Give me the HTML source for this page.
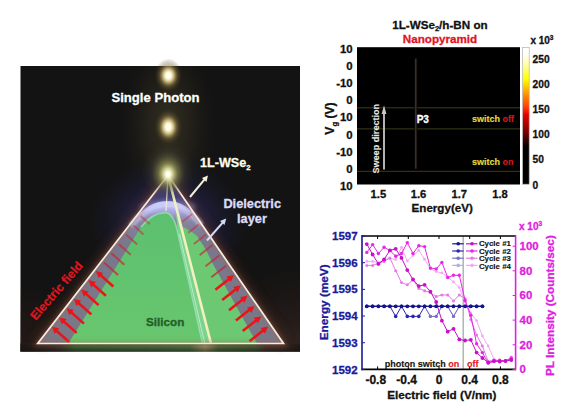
<!DOCTYPE html>
<html><head><meta charset="utf-8">
<style>
html,body{margin:0;padding:0;background:#fff;width:567px;height:409px;overflow:hidden;}
svg{display:block;font-family:"Liberation Sans",sans-serif;font-weight:bold;}
</style></head>
<body>
<svg width="567" height="409" viewBox="0 0 567 409">
<defs>
  <radialGradient id="glowWarm" cx="0.5" cy="0.5" r="0.5">
    <stop offset="0" stop-color="#ffffff" stop-opacity="1"/>
    <stop offset="0.2" stop-color="#fffae0" stop-opacity="1"/>
    <stop offset="0.38" stop-color="#e8d490" stop-opacity="0.85"/>
    <stop offset="0.65" stop-color="#8a7440" stop-opacity="0.45"/>
    <stop offset="1" stop-color="#403018" stop-opacity="0"/>
  </radialGradient>
  <radialGradient id="glowApex" cx="0.5" cy="0.5" r="0.5">
    <stop offset="0" stop-color="#ffffff" stop-opacity="1"/>
    <stop offset="0.12" stop-color="#fffff0" stop-opacity="1"/>
    <stop offset="0.3" stop-color="#e8e8a8" stop-opacity="0.75"/>
    <stop offset="0.6" stop-color="#8a8a50" stop-opacity="0.4"/>
    <stop offset="1" stop-color="#505030" stop-opacity="0"/>
  </radialGradient>
  <radialGradient id="bgPurple" cx="168" cy="225" r="72" gradientUnits="userSpaceOnUse" gradientTransform="translate(168,225) scale(1.15,1) translate(-168,-225)">
    <stop offset="0" stop-color="#3c3a80" stop-opacity="0.95"/>
    <stop offset="0.5" stop-color="#282656" stop-opacity="0.55"/>
    <stop offset="1" stop-color="#181830" stop-opacity="0"/>
  </radialGradient>
  <radialGradient id="triGlow" cx="168" cy="205" r="42" gradientUnits="userSpaceOnUse">
    <stop offset="0" stop-color="#5a58b0" stop-opacity="0.75"/>
    <stop offset="0.6" stop-color="#40408a" stop-opacity="0.4"/>
    <stop offset="1" stop-color="#303070" stop-opacity="0"/>
  </radialGradient>
  <radialGradient id="bgWarm" cx="168" cy="125" r="48" gradientUnits="userSpaceOnUse" gradientTransform="translate(168,125) scale(1,1.8) translate(-168,-125)">
    <stop offset="0" stop-color="#3a3626" stop-opacity="0.9"/>
    <stop offset="0.55" stop-color="#2a271c" stop-opacity="0.55"/>
    <stop offset="1" stop-color="#201e18" stop-opacity="0"/>
  </radialGradient>
  <radialGradient id="apexHaze" cx="0.5" cy="0.5" r="0.5">
    <stop offset="0" stop-color="#d0d088" stop-opacity="0.85"/>
    <stop offset="0.35" stop-color="#8a8a50" stop-opacity="0.55"/>
    <stop offset="0.7" stop-color="#4a4a38" stop-opacity="0.25"/>
    <stop offset="1" stop-color="#3a3a30" stop-opacity="0"/>
  </radialGradient>
  <linearGradient id="bottomStrip" x1="0" y1="0" x2="1" y2="0">
    <stop offset="0" stop-color="#1c1612"/>
    <stop offset="0.059" stop-color="#2a201a"/>
    <stop offset="0.141" stop-color="#3e3430"/>
    <stop offset="0.195" stop-color="#3a6234"/>
    <stop offset="0.606" stop-color="#4a7040"/>
    <stop offset="0.660" stop-color="#9a9060"/>
    <stop offset="0.707" stop-color="#4a6a3a"/>
    <stop offset="0.839" stop-color="#3e5a34"/>
    <stop offset="0.875" stop-color="#4a3430"/>
    <stop offset="0.943" stop-color="#3a2a24"/>
    <stop offset="1" stop-color="#1e1814"/>
  </linearGradient>
  <linearGradient id="bottomDark" x1="0" y1="0" x2="0" y2="1">
    <stop offset="0" stop-color="#3a2a10" stop-opacity="0.35"/>
    <stop offset="0.35" stop-color="#111" stop-opacity="0.05"/>
    <stop offset="1" stop-color="#111" stop-opacity="0.55"/>
  </linearGradient>
  <linearGradient id="dielGrad" x1="0" y1="200" x2="0" y2="343" gradientUnits="userSpaceOnUse">
    <stop offset="0" stop-color="#d0d0fa"/>
    <stop offset="0.06" stop-color="#a8a8e0"/>
    <stop offset="0.16" stop-color="#84849e"/>
    <stop offset="0.3" stop-color="#78788e"/>
    <stop offset="1" stop-color="#7a7886"/>
  </linearGradient>
  <linearGradient id="greenGrad" x1="0" y1="211" x2="0" y2="343" gradientUnits="userSpaceOnUse">
    <stop offset="0" stop-color="#5cc070"/>
    <stop offset="1" stop-color="#68c66e"/>
  </linearGradient>
  <linearGradient id="cbar" x1="0" y1="1" x2="0" y2="0">
    <stop offset="0" stop-color="#000"/>
    <stop offset="0.27" stop-color="#000"/>
    <stop offset="0.38" stop-color="#780000"/>
    <stop offset="0.51" stop-color="#e80000"/>
    <stop offset="0.565" stop-color="#ff4000"/>
    <stop offset="0.64" stop-color="#ff8000"/>
    <stop offset="0.77" stop-color="#ffff00"/>
    <stop offset="0.87" stop-color="#ffffa0"/>
    <stop offset="0.96" stop-color="#fff"/>
    <stop offset="1" stop-color="#fff"/>
  </linearGradient>
  <filter id="blur3" x="-50%" y="-50%" width="200%" height="200%"><feGaussianBlur stdDeviation="3"/></filter>
  <filter id="blur1" x="-20%" y="-20%" width="140%" height="140%"><feGaussianBlur stdDeviation="1"/></filter>
  <filter id="blur2" x="-30%" y="-30%" width="160%" height="160%"><feGaussianBlur stdDeviation="2"/></filter>
  <radialGradient id="bgBR" cx="300" cy="352" r="90" gradientUnits="userSpaceOnUse">
    <stop offset="0" stop-color="#3a2a24" stop-opacity="0.8"/>
    <stop offset="1" stop-color="#2a1a16" stop-opacity="0"/>
  </radialGradient>
  <radialGradient id="bgBL" cx="20" cy="352" r="70" gradientUnits="userSpaceOnUse">
    <stop offset="0" stop-color="#2e1e1a" stop-opacity="0.7"/>
    <stop offset="1" stop-color="#2a1a16" stop-opacity="0"/>
  </radialGradient>
  <filter id="blur5" x="-30%" y="-30%" width="160%" height="160%"><feGaussianBlur stdDeviation="5"/></filter>
</defs>
<rect x="20.5" y="66" width="279.5" height="285.5" fill="#131313"/>
<rect x="20.5" y="66" width="279.5" height="285.5" fill="url(#bgWarm)"/>
<rect x="20.5" y="66" width="279.5" height="285.5" fill="url(#bgPurple)"/>
<rect x="20.5" y="66" width="279.5" height="285.5" fill="url(#bgBR)"/>
<rect x="20.5" y="66" width="279.5" height="285.5" fill="url(#bgBL)"/>
<rect x="20.5" y="343.5" width="279.5" height="8" fill="url(#bottomStrip)"/>
<rect x="20.5" y="343.5" width="279.5" height="8" fill="url(#bottomDark)"/>
<polyline points="37.7,343.5 168,175.3 283.5,343.5" fill="none" stroke="#5a3026" stroke-width="12" opacity="0.45" filter="url(#blur5)"/>
<polygon points="168,175.3 37.7,343.5 283.5,343.5" fill="url(#triGlow)"/>
<path d="M37.7,343.5 L133,220 C144,207 155,201.2 167.4,201.2 C180,201.2 191,208 200.5,221 L283.5,343.5 Z" fill="url(#dielGrad)"/>
<ellipse cx="168" cy="207" rx="28" ry="7" fill="#b8b8f8" opacity="0.35" filter="url(#blur2)"/>
<path d="M131,226 C142,211 155,205.5 167,205.5 C180,205.5 192,212 201,225" fill="none" stroke="#c4c4f4" stroke-width="6" opacity="0.75" filter="url(#blur1)"/>
<path d="M181.2,226 C186,228 191,231 197,236 L205.7,249.3 L213,264 L221,278.7 L257,343.5 L211,343.5 Z" fill="#6cc872"/>
<path d="M176,214 L181.2,226 L211,343.5 L201,343.5 L178,234 Z" fill="#7cd48a"/>
<path d="M68.3,343.5 L141,227 C148,218.5 156,212.8 165,212.8 C171,212.8 175.5,221 178,234 L202,343.5 Z" fill="url(#greenGrad)"/>
<path d="M141,227 C148,218.5 156,212.8 165,212.8 C171,212.8 175.5,221 178,234 L202.5,343.5" fill="none" stroke="#98e0b0" stroke-width="1.5" opacity="0.85"/>
<line x1="179.5" y1="234" x2="204.8" y2="343.5" stroke="#d0f4e8" stroke-width="0.9" opacity="0.8"/>
<line x1="211.3" y1="277.3" x2="226.3" y2="265.5" stroke="#c82434" stroke-width="2" opacity="0.74"/>
<line x1="205.5" y1="266.2" x2="219.5" y2="255.2" stroke="#c82434" stroke-width="2" opacity="0.68"/>
<line x1="199.7" y1="255.1" x2="212.6" y2="244.9" stroke="#c82434" stroke-width="2" opacity="0.62"/>
<line x1="193.9" y1="244.0" x2="205.8" y2="234.6" stroke="#c82434" stroke-width="2" opacity="0.56"/>
<line x1="188.1" y1="232.9" x2="199.0" y2="224.3" stroke="#c82434" stroke-width="2" opacity="0.50"/>
<line x1="182.3" y1="221.8" x2="192.2" y2="214.0" stroke="#c82434" stroke-width="2" opacity="0.44"/>
<line x1="118.1" y1="275.0" x2="104.0" y2="262.4" stroke="#c82434" stroke-width="2" opacity="0.74"/>
<line x1="124.4" y1="264.8" x2="111.3" y2="253.2" stroke="#c82434" stroke-width="2" opacity="0.68"/>
<line x1="130.8" y1="254.7" x2="118.7" y2="243.9" stroke="#c82434" stroke-width="2" opacity="0.62"/>
<line x1="137.2" y1="244.6" x2="126.0" y2="234.6" stroke="#c82434" stroke-width="2" opacity="0.56"/>
<line x1="143.5" y1="234.4" x2="133.3" y2="225.3" stroke="#c82434" stroke-width="2" opacity="0.50"/>
<line x1="149.9" y1="224.3" x2="140.7" y2="216.0" stroke="#c82434" stroke-width="2" opacity="0.44"/>
<g opacity="1"><line x1="215.4" y1="289.7" x2="229.4" y2="278.7" stroke="#ec1418" stroke-width="2.6"/><polygon points="234.1,275.0 230.8,282.1 226.4,276.6" fill="#ec1418"/></g>
<g opacity="1"><line x1="222.2" y1="300.0" x2="236.2" y2="289.0" stroke="#ec1418" stroke-width="2.6"/><polygon points="240.9,285.3 237.6,292.4 233.3,286.9" fill="#ec1418"/></g>
<g opacity="1"><line x1="229.0" y1="310.3" x2="243.0" y2="299.3" stroke="#ec1418" stroke-width="2.6"/><polygon points="247.7,295.6 244.4,302.7 240.1,297.2" fill="#ec1418"/></g>
<g opacity="1"><line x1="235.9" y1="320.6" x2="249.8" y2="309.6" stroke="#ec1418" stroke-width="2.6"/><polygon points="254.6,305.9 251.2,313.0 246.9,307.5" fill="#ec1418"/></g>
<g opacity="1"><line x1="242.7" y1="330.9" x2="256.7" y2="319.9" stroke="#ec1418" stroke-width="2.6"/><polygon points="261.4,316.2 258.0,323.3 253.7,317.8" fill="#ec1418"/></g>
<g opacity="1"><line x1="249.5" y1="341.2" x2="263.5" y2="330.2" stroke="#ec1418" stroke-width="2.6"/><polygon points="268.2,326.5 264.9,333.6 260.5,328.1" fill="#ec1418"/></g>
<g opacity="1"><line x1="69.3" y1="342.2" x2="56.2" y2="330.5" stroke="#ec1418" stroke-width="2.6"/><polygon points="51.7,326.5 59.3,328.5 54.6,333.8" fill="#ec1418"/></g>
<g opacity="1"><line x1="76.6" y1="332.9" x2="63.5" y2="321.2" stroke="#ec1418" stroke-width="2.6"/><polygon points="59.0,317.2 66.6,319.3 61.9,324.5" fill="#ec1418"/></g>
<g opacity="1"><line x1="84.0" y1="323.6" x2="70.8" y2="311.9" stroke="#ec1418" stroke-width="2.6"/><polygon points="66.4,307.9 73.9,310.0 69.3,315.2" fill="#ec1418"/></g>
<g opacity="1"><line x1="91.3" y1="314.4" x2="78.2" y2="302.7" stroke="#ec1418" stroke-width="2.6"/><polygon points="73.7,298.7 81.2,300.7 76.6,305.9" fill="#ec1418"/></g>
<g opacity="1"><line x1="98.6" y1="305.1" x2="85.5" y2="293.4" stroke="#ec1418" stroke-width="2.6"/><polygon points="81.0,289.4 88.6,291.4 83.9,296.7" fill="#ec1418"/></g>
<g opacity="1"><line x1="105.9" y1="295.8" x2="92.8" y2="284.1" stroke="#ec1418" stroke-width="2.6"/><polygon points="88.3,280.1 95.9,282.1 91.2,287.4" fill="#ec1418"/></g>
<g opacity="1"><line x1="113.3" y1="286.5" x2="100.2" y2="274.8" stroke="#ec1418" stroke-width="2.6"/><polygon points="95.7,270.8 103.2,272.9 98.6,278.1" fill="#ec1418"/></g>
<path d="M133,220 C144,207 155,201.2 167.4,201.2 C180,201.2 191,208 200.5,221 C192,212 181,207 167.4,207 C154,207 143,212 133,220 Z" fill="#d4d4ff" opacity="0.55"/>
<line x1="168" y1="175.3" x2="166" y2="211" stroke="#f0ecd0" stroke-width="1.3" opacity="0.85"/>
<line x1="168" y1="175.3" x2="211" y2="343.5" stroke="#f2f0c0" stroke-width="2.6"/>
<polygon points="168,175.3 37.7,343.5 283.5,343.5" fill="none" stroke="#a06050" stroke-width="4" opacity="0.45" filter="url(#blur2)"/>
<polygon points="168,175.3 37.7,343.5 283.5,343.5" fill="none" stroke="#f6eedc" stroke-width="1.7" stroke-linejoin="miter"/>
<ellipse cx="168.4" cy="75.5" rx="14" ry="17" fill="url(#glowWarm)"/>
<ellipse cx="168.3" cy="127" rx="14" ry="18" fill="url(#glowWarm)"/>
<ellipse cx="168" cy="171.3" rx="26" ry="30" fill="url(#apexHaze)"/>
<ellipse cx="168" cy="174.3" rx="16" ry="19" fill="url(#glowApex)"/>
<text x="155.5" y="101.8" font-size="13.1" fill="#fff" text-anchor="middle" stroke="#fff" stroke-width="0.3">Single Photon</text>
<text x="200" y="166.6" font-size="12.6" fill="#fffbe8" stroke="#fffbe8" stroke-width="0.3">1L-WSe<tspan font-size="7.8" dy="3.4">2</tspan></text>
<text x="252.2" y="207.7" font-size="12.8" fill="#dcdcf6" text-anchor="middle" stroke="#dcdcf6" stroke-width="0.3">Dielectric</text>
<text x="252" y="222.8" font-size="12.8" fill="#dcdcf6" text-anchor="middle" stroke="#dcdcf6" stroke-width="0.3">layer</text>
<text x="165.2" y="326.1" font-size="11.7" fill="#235e28" text-anchor="middle" stroke="#235e28" stroke-width="0.3">Silicon</text>
<text transform="translate(56.2,290.6) rotate(-49)" font-size="12.2" fill="#dc1820" text-anchor="middle" dy="4.4" stroke="#dc1820" stroke-width="0.3">Electric field</text>
<g opacity="1"><line x1="190.0" y1="197.0" x2="204.8" y2="179.2" stroke="#f6f0d8" stroke-width="2"/><polygon points="208.0,175.4 206.5,181.9 201.9,178.1" fill="#f6f0d8"/></g>
<g opacity="1"><line x1="207.0" y1="240.5" x2="222.9" y2="222.3" stroke="#d8d8f8" stroke-width="2"/><polygon points="226.2,218.5 224.5,225.0 220.0,221.0" fill="#d8d8f8"/></g>
<text x="392.2" y="28.8" font-size="11.65" fill="#111" stroke="#111" stroke-width="0.3">1L-WSe<tspan font-size="7.6" dy="2.6">2</tspan><tspan dy="-2.6">/h-BN on</tspan></text>
<text x="402.8" y="42.8" font-size="11.65" fill="#e0141e" stroke="#e0141e" stroke-width="0.3">Nanopyramid</text>
<rect x="357" y="47.2" width="163" height="137.3" fill="#000"/>
<line x1="357" y1="107.8" x2="520" y2="107.8" stroke="#3e3c1a" stroke-width="1"/>
<line x1="357" y1="128.9" x2="520" y2="128.9" stroke="#3e3c1a" stroke-width="1"/>
<line x1="357" y1="171.3" x2="520" y2="171.3" stroke="#3e3c1a" stroke-width="1"/>
<line x1="415.8" y1="58.5" x2="415.8" y2="168.8" stroke="#0e0a08" stroke-width="3"/>
<line x1="415.8" y1="58.5" x2="415.8" y2="168.8" stroke="#4e3a32" stroke-width="1.1"/>
<line x1="384" y1="169.6" x2="384" y2="112" stroke="#c8c8c8" stroke-width="1.8"/>
<polygon points="384,105.3 381.6,114 386.4,114" fill="#c8c8c8"/>
<text transform="translate(379,138.7) rotate(-90)" font-size="9.1" fill="#e8e8e8" text-anchor="middle" stroke="#e8e8e8" stroke-width="0.12">Sweep direction</text>
<text x="416.7" y="122.6" font-size="10" fill="#fff" stroke="#fff" stroke-width="0.3">P3</text>
<text x="472" y="122.3" font-size="9" fill="#e4dc3c" stroke="#e4dc3c" stroke-width="0.12">switch <tspan fill="#d8181e" stroke="#d8181e" stroke-width="0.12">off</tspan></text>
<text x="472" y="164.6" font-size="9" fill="#e4dc3c" stroke="#e4dc3c" stroke-width="0.12">switch <tspan fill="#d8181e" stroke="#d8181e" stroke-width="0.12">on</tspan></text>
<rect x="522.6" y="47.6" width="6.6" height="136.6" fill="url(#cbar)" stroke="#b4b4b4" stroke-width="0.7"/>
<text x="352.6" y="52.8" font-size="11.4" fill="#111" text-anchor="end" stroke="#111" stroke-width="0.3">10</text>
<text x="352.6" y="70.0" font-size="11.4" fill="#111" text-anchor="end" stroke="#111" stroke-width="0.3">0</text>
<text x="352.6" y="87.1" font-size="11.4" fill="#111" text-anchor="end" stroke="#111" stroke-width="0.3">-10</text>
<text x="352.6" y="104.3" font-size="11.4" fill="#111" text-anchor="end" stroke="#111" stroke-width="0.3">0</text>
<text x="352.6" y="121.4" font-size="11.4" fill="#111" text-anchor="end" stroke="#111" stroke-width="0.3">10</text>
<text x="352.6" y="138.6" font-size="11.4" fill="#111" text-anchor="end" stroke="#111" stroke-width="0.3">0</text>
<text x="352.6" y="155.8" font-size="11.4" fill="#111" text-anchor="end" stroke="#111" stroke-width="0.3">-10</text>
<text x="352.6" y="172.9" font-size="11.4" fill="#111" text-anchor="end" stroke="#111" stroke-width="0.3">0</text>
<text x="352.6" y="190.1" font-size="11.4" fill="#111" text-anchor="end" stroke="#111" stroke-width="0.3">10</text>
<text x="378.4" y="197.5" font-size="11.2" fill="#111" text-anchor="middle" stroke="#111" stroke-width="0.3">1.5</text>
<text x="418.5" y="197.5" font-size="11.2" fill="#111" text-anchor="middle" stroke="#111" stroke-width="0.3">1.6</text>
<text x="459.2" y="197.5" font-size="11.2" fill="#111" text-anchor="middle" stroke="#111" stroke-width="0.3">1.7</text>
<text x="500" y="197.5" font-size="11.2" fill="#111" text-anchor="middle" stroke="#111" stroke-width="0.3">1.8</text>
<text x="442.2" y="212.4" font-size="11.6" fill="#111" text-anchor="middle" stroke="#111" stroke-width="0.3">Energy(eV)</text>
<text transform="translate(334.2,118.5) rotate(-90)" font-size="12" fill="#111" text-anchor="middle" stroke="#111" stroke-width="0.3">V<tspan font-size="8" dy="3">g</tspan><tspan dy="-3"> (V)</tspan></text>
<text x="532.6" y="62.8" font-size="10.2" fill="#111" stroke="#111" stroke-width="0.3">250</text>
<text x="532.6" y="87.9" font-size="10.2" fill="#111" stroke="#111" stroke-width="0.3">200</text>
<text x="532.6" y="113.1" font-size="10.2" fill="#111" stroke="#111" stroke-width="0.3">150</text>
<text x="532.6" y="138.2" font-size="10.2" fill="#111" stroke="#111" stroke-width="0.3">100</text>
<text x="532.6" y="163.4" font-size="10.2" fill="#111" stroke="#111" stroke-width="0.3">50</text>
<text x="532.6" y="188.5" font-size="10.2" fill="#111" stroke="#111" stroke-width="0.3">0</text>
<text x="530.4" y="43.7" font-size="10" fill="#111" stroke="#111" stroke-width="0.3">x 10<tspan font-size="6.5" dy="-4.2">3</tspan></text>
<line x1="463.2" y1="236.5" x2="463.2" y2="368.8" stroke="#a8a8a8" stroke-width="1.3"/>
<polyline points="366.8,306.3 372.6,306.3 378.4,306.3 384.1,306.3 389.9,306.3 395.7,306.3 401.5,306.3 407.3,306.3 413.0,306.3 418.8,306.3 424.6,306.3 430.4,316.4 436.2,316.4 441.9,306.3 447.7,306.3 453.5,316.4 459.3,306.3 465.1,306.3 470.8,306.3 476.6,306.3 482.4,306.3" fill="none" stroke="#b0b0e0" stroke-width="1"/><circle cx="366.8" cy="306.3" r="1.6" fill="#b0b0e0"/><circle cx="372.6" cy="306.3" r="1.6" fill="#b0b0e0"/><circle cx="378.4" cy="306.3" r="1.6" fill="#b0b0e0"/><circle cx="384.1" cy="306.3" r="1.6" fill="#b0b0e0"/><circle cx="389.9" cy="306.3" r="1.6" fill="#b0b0e0"/><circle cx="395.7" cy="306.3" r="1.6" fill="#b0b0e0"/><circle cx="401.5" cy="306.3" r="1.6" fill="#b0b0e0"/><circle cx="407.3" cy="306.3" r="1.6" fill="#b0b0e0"/><circle cx="413.0" cy="306.3" r="1.6" fill="#b0b0e0"/><circle cx="418.8" cy="306.3" r="1.6" fill="#b0b0e0"/><circle cx="424.6" cy="306.3" r="1.6" fill="#b0b0e0"/><circle cx="430.4" cy="316.4" r="1.6" fill="#b0b0e0"/><circle cx="436.2" cy="316.4" r="1.6" fill="#b0b0e0"/><circle cx="441.9" cy="306.3" r="1.6" fill="#b0b0e0"/><circle cx="447.7" cy="306.3" r="1.6" fill="#b0b0e0"/><circle cx="453.5" cy="316.4" r="1.6" fill="#b0b0e0"/><circle cx="459.3" cy="306.3" r="1.6" fill="#b0b0e0"/><circle cx="465.1" cy="306.3" r="1.6" fill="#b0b0e0"/><circle cx="470.8" cy="306.3" r="1.6" fill="#b0b0e0"/><circle cx="476.6" cy="306.3" r="1.6" fill="#b0b0e0"/><circle cx="482.4" cy="306.3" r="1.6" fill="#b0b0e0"/>
<polyline points="366.8,306.3 372.6,306.3 378.4,306.3 384.1,306.3 389.9,306.3 395.7,306.3 401.5,306.3 407.3,306.3 413.0,306.3 418.8,306.3 424.6,306.3 430.4,316.4 436.2,316.4 441.9,306.3 447.7,306.3 453.5,316.4 459.3,306.3 465.1,306.3 470.8,306.3 476.6,306.3 482.4,306.3" fill="none" stroke="#7070c8" stroke-width="1"/><circle cx="366.8" cy="306.3" r="1.6" fill="#7070c8"/><circle cx="372.6" cy="306.3" r="1.6" fill="#7070c8"/><circle cx="378.4" cy="306.3" r="1.6" fill="#7070c8"/><circle cx="384.1" cy="306.3" r="1.6" fill="#7070c8"/><circle cx="389.9" cy="306.3" r="1.6" fill="#7070c8"/><circle cx="395.7" cy="306.3" r="1.6" fill="#7070c8"/><circle cx="401.5" cy="306.3" r="1.6" fill="#7070c8"/><circle cx="407.3" cy="306.3" r="1.6" fill="#7070c8"/><circle cx="413.0" cy="306.3" r="1.6" fill="#7070c8"/><circle cx="418.8" cy="306.3" r="1.6" fill="#7070c8"/><circle cx="424.6" cy="306.3" r="1.6" fill="#7070c8"/><circle cx="430.4" cy="316.4" r="1.6" fill="#7070c8"/><circle cx="436.2" cy="316.4" r="1.6" fill="#7070c8"/><circle cx="441.9" cy="306.3" r="1.6" fill="#7070c8"/><circle cx="447.7" cy="306.3" r="1.6" fill="#7070c8"/><circle cx="453.5" cy="316.4" r="1.6" fill="#7070c8"/><circle cx="459.3" cy="306.3" r="1.6" fill="#7070c8"/><circle cx="465.1" cy="306.3" r="1.6" fill="#7070c8"/><circle cx="470.8" cy="306.3" r="1.6" fill="#7070c8"/><circle cx="476.6" cy="306.3" r="1.6" fill="#7070c8"/><circle cx="482.4" cy="306.3" r="1.6" fill="#7070c8"/>
<polyline points="366.8,261.4 372.6,261.4 378.4,262.6 384.1,259.5 389.9,258.5 395.7,259.5 401.5,247.3 407.3,261.0 413.0,255.6 418.8,250.4 424.6,259.2 430.4,268.9 436.2,271.6 441.9,272.9 447.7,277.0 453.5,282.0 459.3,287.6 465.1,302.0 470.8,313.0 476.6,320.7 482.4,336.0 488.2,346.0 494.0,359.2 499.7,361.0 505.5,361.0 511.3,357.0" fill="none" stroke="#f4a8f4" stroke-width="1"/><circle cx="366.8" cy="261.4" r="1.4" fill="#f4a8f4"/><circle cx="372.6" cy="261.4" r="1.4" fill="#f4a8f4"/><circle cx="378.4" cy="262.6" r="1.4" fill="#f4a8f4"/><circle cx="384.1" cy="259.5" r="1.4" fill="#f4a8f4"/><circle cx="389.9" cy="258.5" r="1.4" fill="#f4a8f4"/><circle cx="395.7" cy="259.5" r="1.4" fill="#f4a8f4"/><circle cx="401.5" cy="247.3" r="1.4" fill="#f4a8f4"/><circle cx="407.3" cy="261.0" r="1.4" fill="#f4a8f4"/><circle cx="413.0" cy="255.6" r="1.4" fill="#f4a8f4"/><circle cx="418.8" cy="250.4" r="1.4" fill="#f4a8f4"/><circle cx="424.6" cy="259.2" r="1.4" fill="#f4a8f4"/><circle cx="430.4" cy="268.9" r="1.4" fill="#f4a8f4"/><circle cx="436.2" cy="271.6" r="1.4" fill="#f4a8f4"/><circle cx="441.9" cy="272.9" r="1.4" fill="#f4a8f4"/><circle cx="447.7" cy="277.0" r="1.4" fill="#f4a8f4"/><circle cx="453.5" cy="282.0" r="1.4" fill="#f4a8f4"/><circle cx="459.3" cy="287.6" r="1.4" fill="#f4a8f4"/><circle cx="465.1" cy="302.0" r="1.4" fill="#f4a8f4"/><circle cx="470.8" cy="313.0" r="1.4" fill="#f4a8f4"/><circle cx="476.6" cy="320.7" r="1.4" fill="#f4a8f4"/><circle cx="482.4" cy="336.0" r="1.4" fill="#f4a8f4"/><circle cx="488.2" cy="346.0" r="1.4" fill="#f4a8f4"/><circle cx="494.0" cy="359.2" r="1.4" fill="#f4a8f4"/><circle cx="499.7" cy="361.0" r="1.4" fill="#f4a8f4"/><circle cx="505.5" cy="361.0" r="1.4" fill="#f4a8f4"/><circle cx="511.3" cy="357.0" r="1.4" fill="#f4a8f4"/>
<polyline points="366.8,265.4 372.6,265.4 378.4,263.4 384.1,261.4 389.9,257.9 395.7,270.7 401.5,282.6 407.3,284.8 413.0,279.8 418.8,288.4 424.6,290.8 430.4,292.5 436.2,296.5 441.9,295.0 447.7,295.0 453.5,300.9 459.3,295.0 465.1,298.7 470.8,319.6 476.6,335.0 482.4,346.0 488.2,361.4 494.0,360.0 499.7,361.0 505.5,360.5 511.3,359.0" fill="none" stroke="#e878e8" stroke-width="1"/><circle cx="366.8" cy="265.4" r="1.5" fill="#e878e8"/><circle cx="372.6" cy="265.4" r="1.5" fill="#e878e8"/><circle cx="378.4" cy="263.4" r="1.5" fill="#e878e8"/><circle cx="384.1" cy="261.4" r="1.5" fill="#e878e8"/><circle cx="389.9" cy="257.9" r="1.5" fill="#e878e8"/><circle cx="395.7" cy="270.7" r="1.5" fill="#e878e8"/><circle cx="401.5" cy="282.6" r="1.5" fill="#e878e8"/><circle cx="407.3" cy="284.8" r="1.5" fill="#e878e8"/><circle cx="413.0" cy="279.8" r="1.5" fill="#e878e8"/><circle cx="418.8" cy="288.4" r="1.5" fill="#e878e8"/><circle cx="424.6" cy="290.8" r="1.5" fill="#e878e8"/><circle cx="430.4" cy="292.5" r="1.5" fill="#e878e8"/><circle cx="436.2" cy="296.5" r="1.5" fill="#e878e8"/><circle cx="441.9" cy="295.0" r="1.5" fill="#e878e8"/><circle cx="447.7" cy="295.0" r="1.5" fill="#e878e8"/><circle cx="453.5" cy="300.9" r="1.5" fill="#e878e8"/><circle cx="459.3" cy="295.0" r="1.5" fill="#e878e8"/><circle cx="465.1" cy="298.7" r="1.5" fill="#e878e8"/><circle cx="470.8" cy="319.6" r="1.5" fill="#e878e8"/><circle cx="476.6" cy="335.0" r="1.5" fill="#e878e8"/><circle cx="482.4" cy="346.0" r="1.5" fill="#e878e8"/><circle cx="488.2" cy="361.4" r="1.5" fill="#e878e8"/><circle cx="494.0" cy="360.0" r="1.5" fill="#e878e8"/><circle cx="499.7" cy="361.0" r="1.5" fill="#e878e8"/><circle cx="505.5" cy="360.5" r="1.5" fill="#e878e8"/><circle cx="511.3" cy="359.0" r="1.5" fill="#e878e8"/>
<polyline points="366.8,306.3 372.6,306.3 378.4,306.3 384.1,306.3 389.9,306.3 395.7,316.4 401.5,306.3 407.3,316.4 413.0,316.4 418.8,316.4 424.6,306.3 430.4,306.3 436.2,306.3 441.9,306.3 447.7,306.3 453.5,306.3 459.3,306.3 465.1,306.3 470.8,306.3 476.6,306.3 482.4,306.3" fill="none" stroke="#2828b0" stroke-width="1"/><circle cx="366.8" cy="306.3" r="1.8" fill="#2828b0"/><circle cx="372.6" cy="306.3" r="1.8" fill="#2828b0"/><circle cx="378.4" cy="306.3" r="1.8" fill="#2828b0"/><circle cx="384.1" cy="306.3" r="1.8" fill="#2828b0"/><circle cx="389.9" cy="306.3" r="1.8" fill="#2828b0"/><circle cx="395.7" cy="316.4" r="1.8" fill="#2828b0"/><circle cx="401.5" cy="306.3" r="1.8" fill="#2828b0"/><circle cx="407.3" cy="316.4" r="1.8" fill="#2828b0"/><circle cx="413.0" cy="316.4" r="1.8" fill="#2828b0"/><circle cx="418.8" cy="316.4" r="1.8" fill="#2828b0"/><circle cx="424.6" cy="306.3" r="1.8" fill="#2828b0"/><circle cx="430.4" cy="306.3" r="1.8" fill="#2828b0"/><circle cx="436.2" cy="306.3" r="1.8" fill="#2828b0"/><circle cx="441.9" cy="306.3" r="1.8" fill="#2828b0"/><circle cx="447.7" cy="306.3" r="1.8" fill="#2828b0"/><circle cx="453.5" cy="306.3" r="1.8" fill="#2828b0"/><circle cx="459.3" cy="306.3" r="1.8" fill="#2828b0"/><circle cx="465.1" cy="306.3" r="1.8" fill="#2828b0"/><circle cx="470.8" cy="306.3" r="1.8" fill="#2828b0"/><circle cx="476.6" cy="306.3" r="1.8" fill="#2828b0"/><circle cx="482.4" cy="306.3" r="1.8" fill="#2828b0"/>
<polyline points="366.8,252.4 372.6,244.6 378.4,253.5 384.1,247.3 389.9,250.4 395.7,256.3 401.5,253.5 407.3,242.6 413.0,253.5 418.8,245.7 424.6,246.6 430.4,268.1 436.2,268.9 441.9,262.4 447.7,277.5 453.5,275.3 459.3,275.3 465.1,300.5 470.8,315.2 476.6,343.8 482.4,352.6 488.2,363.1 494.0,361.4 499.7,360.3 505.5,361.0 511.3,358.0" fill="none" stroke="#e628e6" stroke-width="1"/><circle cx="366.8" cy="252.4" r="1.7" fill="#e628e6"/><circle cx="372.6" cy="244.6" r="1.7" fill="#e628e6"/><circle cx="378.4" cy="253.5" r="1.7" fill="#e628e6"/><circle cx="384.1" cy="247.3" r="1.7" fill="#e628e6"/><circle cx="389.9" cy="250.4" r="1.7" fill="#e628e6"/><circle cx="395.7" cy="256.3" r="1.7" fill="#e628e6"/><circle cx="401.5" cy="253.5" r="1.7" fill="#e628e6"/><circle cx="407.3" cy="242.6" r="1.7" fill="#e628e6"/><circle cx="413.0" cy="253.5" r="1.7" fill="#e628e6"/><circle cx="418.8" cy="245.7" r="1.7" fill="#e628e6"/><circle cx="424.6" cy="246.6" r="1.7" fill="#e628e6"/><circle cx="430.4" cy="268.1" r="1.7" fill="#e628e6"/><circle cx="436.2" cy="268.9" r="1.7" fill="#e628e6"/><circle cx="441.9" cy="262.4" r="1.7" fill="#e628e6"/><circle cx="447.7" cy="277.5" r="1.7" fill="#e628e6"/><circle cx="453.5" cy="275.3" r="1.7" fill="#e628e6"/><circle cx="459.3" cy="275.3" r="1.7" fill="#e628e6"/><circle cx="465.1" cy="300.5" r="1.7" fill="#e628e6"/><circle cx="470.8" cy="315.2" r="1.7" fill="#e628e6"/><circle cx="476.6" cy="343.8" r="1.7" fill="#e628e6"/><circle cx="482.4" cy="352.6" r="1.7" fill="#e628e6"/><circle cx="488.2" cy="363.1" r="1.7" fill="#e628e6"/><circle cx="494.0" cy="361.4" r="1.7" fill="#e628e6"/><circle cx="499.7" cy="360.3" r="1.7" fill="#e628e6"/><circle cx="505.5" cy="361.0" r="1.7" fill="#e628e6"/><circle cx="511.3" cy="358.0" r="1.7" fill="#e628e6"/>
<polyline points="366.8,244.1 372.6,254.5 378.4,263.9 384.1,259.5 389.9,250.4 395.7,248.8 401.5,257.9 407.3,270.1 413.0,279.5 418.8,286.1 424.6,284.8 430.4,291.6 436.2,302.0 441.9,320.7 447.7,331.7 453.5,328.8 459.3,339.4 465.1,340.5 470.8,339.8 476.6,352.6 482.4,358.0 488.2,362.5 494.0,361.0 499.7,361.5 505.5,361.0 511.3,360.0" fill="none" stroke="#c810c8" stroke-width="1"/><circle cx="366.8" cy="244.1" r="1.9" fill="#c810c8"/><circle cx="372.6" cy="254.5" r="1.9" fill="#c810c8"/><circle cx="378.4" cy="263.9" r="1.9" fill="#c810c8"/><circle cx="384.1" cy="259.5" r="1.9" fill="#c810c8"/><circle cx="389.9" cy="250.4" r="1.9" fill="#c810c8"/><circle cx="395.7" cy="248.8" r="1.9" fill="#c810c8"/><circle cx="401.5" cy="257.9" r="1.9" fill="#c810c8"/><circle cx="407.3" cy="270.1" r="1.9" fill="#c810c8"/><circle cx="413.0" cy="279.5" r="1.9" fill="#c810c8"/><circle cx="418.8" cy="286.1" r="1.9" fill="#c810c8"/><circle cx="424.6" cy="284.8" r="1.9" fill="#c810c8"/><circle cx="430.4" cy="291.6" r="1.9" fill="#c810c8"/><circle cx="436.2" cy="302.0" r="1.9" fill="#c810c8"/><circle cx="441.9" cy="320.7" r="1.9" fill="#c810c8"/><circle cx="447.7" cy="331.7" r="1.9" fill="#c810c8"/><circle cx="453.5" cy="328.8" r="1.9" fill="#c810c8"/><circle cx="459.3" cy="339.4" r="1.9" fill="#c810c8"/><circle cx="465.1" cy="340.5" r="1.9" fill="#c810c8"/><circle cx="470.8" cy="339.8" r="1.9" fill="#c810c8"/><circle cx="476.6" cy="352.6" r="1.9" fill="#c810c8"/><circle cx="482.4" cy="358.0" r="1.9" fill="#c810c8"/><circle cx="488.2" cy="362.5" r="1.9" fill="#c810c8"/><circle cx="494.0" cy="361.0" r="1.9" fill="#c810c8"/><circle cx="499.7" cy="361.5" r="1.9" fill="#c810c8"/><circle cx="505.5" cy="361.0" r="1.9" fill="#c810c8"/><circle cx="511.3" cy="360.0" r="1.9" fill="#c810c8"/>
<polyline points="366.8,306.3 372.6,306.3 378.4,306.3 384.1,306.3 389.9,306.3 395.7,306.3 401.5,306.3 407.3,306.3 413.0,306.3 418.8,306.3 424.6,306.3 430.4,306.3 436.2,306.3 441.9,306.3 447.7,306.3 453.5,306.3 459.3,306.3 465.1,306.3 470.8,306.3 476.6,306.3 482.4,306.3" fill="none" stroke="#14148c" stroke-width="1"/><circle cx="366.8" cy="306.3" r="1.9" fill="#14148c"/><circle cx="372.6" cy="306.3" r="1.9" fill="#14148c"/><circle cx="378.4" cy="306.3" r="1.9" fill="#14148c"/><circle cx="384.1" cy="306.3" r="1.9" fill="#14148c"/><circle cx="389.9" cy="306.3" r="1.9" fill="#14148c"/><circle cx="395.7" cy="306.3" r="1.9" fill="#14148c"/><circle cx="401.5" cy="306.3" r="1.9" fill="#14148c"/><circle cx="407.3" cy="306.3" r="1.9" fill="#14148c"/><circle cx="413.0" cy="306.3" r="1.9" fill="#14148c"/><circle cx="418.8" cy="306.3" r="1.9" fill="#14148c"/><circle cx="424.6" cy="306.3" r="1.9" fill="#14148c"/><circle cx="430.4" cy="306.3" r="1.9" fill="#14148c"/><circle cx="436.2" cy="306.3" r="1.9" fill="#14148c"/><circle cx="441.9" cy="306.3" r="1.9" fill="#14148c"/><circle cx="447.7" cy="306.3" r="1.9" fill="#14148c"/><circle cx="453.5" cy="306.3" r="1.9" fill="#14148c"/><circle cx="459.3" cy="306.3" r="1.9" fill="#14148c"/><circle cx="465.1" cy="306.3" r="1.9" fill="#14148c"/><circle cx="470.8" cy="306.3" r="1.9" fill="#14148c"/><circle cx="476.6" cy="306.3" r="1.9" fill="#14148c"/><circle cx="482.4" cy="306.3" r="1.9" fill="#14148c"/>
<line x1="361.5" y1="236" x2="516" y2="236" stroke="#000" stroke-width="1.4"/>
<line x1="361.5" y1="369.4" x2="516" y2="369.4" stroke="#000" stroke-width="1.6"/>
<line x1="362" y1="235.3" x2="362" y2="370.2" stroke="#1a1a90" stroke-width="1.6"/>
<line x1="515.6" y1="235.3" x2="515.6" y2="370.2" stroke="#e020e0" stroke-width="1.6"/>
<line x1="377.6" y1="236" x2="377.6" y2="239" stroke="#000" stroke-width="1"/>
<line x1="377.6" y1="369.4" x2="377.6" y2="366.4" stroke="#000" stroke-width="1"/>
<line x1="408.3" y1="236" x2="408.3" y2="239" stroke="#000" stroke-width="1"/>
<line x1="408.3" y1="369.4" x2="408.3" y2="366.4" stroke="#000" stroke-width="1"/>
<line x1="439.0" y1="236" x2="439.0" y2="239" stroke="#000" stroke-width="1"/>
<line x1="439.0" y1="369.4" x2="439.0" y2="366.4" stroke="#000" stroke-width="1"/>
<line x1="469.7" y1="236" x2="469.7" y2="239" stroke="#000" stroke-width="1"/>
<line x1="469.7" y1="369.4" x2="469.7" y2="366.4" stroke="#000" stroke-width="1"/>
<line x1="500.4" y1="236" x2="500.4" y2="239" stroke="#000" stroke-width="1"/>
<line x1="500.4" y1="369.4" x2="500.4" y2="366.4" stroke="#000" stroke-width="1"/>
<line x1="362" y1="236.0" x2="365" y2="236.0" stroke="#1a1a90" stroke-width="1"/>
<line x1="362" y1="262.7" x2="365" y2="262.7" stroke="#1a1a90" stroke-width="1"/>
<line x1="362" y1="289.4" x2="365" y2="289.4" stroke="#1a1a90" stroke-width="1"/>
<line x1="362" y1="316.0" x2="365" y2="316.0" stroke="#1a1a90" stroke-width="1"/>
<line x1="362" y1="342.7" x2="365" y2="342.7" stroke="#1a1a90" stroke-width="1"/>
<line x1="362" y1="369.4" x2="365" y2="369.4" stroke="#1a1a90" stroke-width="1"/>
<line x1="515.6" y1="369.4" x2="512.6" y2="369.4" stroke="#e020e0" stroke-width="1"/>
<line x1="515.6" y1="344.8" x2="512.6" y2="344.8" stroke="#e020e0" stroke-width="1"/>
<line x1="515.6" y1="320.1" x2="512.6" y2="320.1" stroke="#e020e0" stroke-width="1"/>
<line x1="515.6" y1="295.5" x2="512.6" y2="295.5" stroke="#e020e0" stroke-width="1"/>
<line x1="515.6" y1="270.8" x2="512.6" y2="270.8" stroke="#e020e0" stroke-width="1"/>
<line x1="515.6" y1="246.2" x2="512.6" y2="246.2" stroke="#e020e0" stroke-width="1"/>
<line x1="452.2" y1="243.8" x2="463.6" y2="243.8" stroke="#14148c" stroke-width="1.2"/><circle cx="458.2" cy="243.8" r="1.8" fill="#14148c"/>
<line x1="466" y1="243.8" x2="477.4" y2="243.8" stroke="#c810c8" stroke-width="1.2"/><circle cx="472" cy="243.8" r="1.8" fill="#c810c8"/>
<text x="478.9" y="246.4" font-size="7.9" fill="#111" stroke="#111" stroke-width="0.12">Cycle #1</text>
<line x1="452.2" y1="251" x2="463.6" y2="251" stroke="#2828b0" stroke-width="1.2"/><circle cx="458.2" cy="251" r="1.8" fill="#2828b0"/>
<line x1="466" y1="251" x2="477.4" y2="251" stroke="#e628e6" stroke-width="1.2"/><circle cx="472" cy="251" r="1.8" fill="#e628e6"/>
<text x="478.9" y="253.8" font-size="7.9" fill="#111" stroke="#111" stroke-width="0.12">Cycle #2</text>
<line x1="452.2" y1="258.2" x2="463.6" y2="258.2" stroke="#7070c8" stroke-width="1.2"/><circle cx="458.2" cy="258.2" r="1.8" fill="#7070c8"/>
<line x1="466" y1="258.2" x2="477.4" y2="258.2" stroke="#e878e8" stroke-width="1.2"/><circle cx="472" cy="258.2" r="1.8" fill="#e878e8"/>
<text x="478.9" y="261.3" font-size="7.9" fill="#111" stroke="#111" stroke-width="0.12">Cycle #3</text>
<line x1="452.2" y1="265.4" x2="463.6" y2="265.4" stroke="#b0b0e0" stroke-width="1.2"/><circle cx="458.2" cy="265.4" r="1.8" fill="#b0b0e0"/>
<line x1="466" y1="265.4" x2="477.4" y2="265.4" stroke="#f4a8f4" stroke-width="1.2"/><circle cx="472" cy="265.4" r="1.8" fill="#f4a8f4"/>
<text x="478.9" y="268.8" font-size="7.9" fill="#111" stroke="#111" stroke-width="0.12">Cycle #4</text>
<text x="357.6" y="240.0" font-size="11.5" fill="#1a1a9a" text-anchor="end" stroke="#1a1a9a" stroke-width="0.3">1597</text>
<text x="357.6" y="266.7" font-size="11.5" fill="#1a1a9a" text-anchor="end" stroke="#1a1a9a" stroke-width="0.3">1596</text>
<text x="357.6" y="293.4" font-size="11.5" fill="#1a1a9a" text-anchor="end" stroke="#1a1a9a" stroke-width="0.3">1595</text>
<text x="357.6" y="320.1" font-size="11.5" fill="#1a1a9a" text-anchor="end" stroke="#1a1a9a" stroke-width="0.3">1594</text>
<text x="357.6" y="346.8" font-size="11.5" fill="#1a1a9a" text-anchor="end" stroke="#1a1a9a" stroke-width="0.3">1593</text>
<text x="357.6" y="373.5" font-size="11.5" fill="#1a1a9a" text-anchor="end" stroke="#1a1a9a" stroke-width="0.3">1592</text>
<text transform="translate(328.3,302.3) rotate(-90)" font-size="11.8" fill="#1a1a9a" text-anchor="middle" stroke="#1a1a9a" stroke-width="0.3">Energy (meV)</text>
<text x="519.6" y="250.2" font-size="11.4" fill="#e020e0" stroke="#e020e0" stroke-width="0.3">100</text>
<text x="519.6" y="274.8" font-size="11.4" fill="#e020e0" stroke="#e020e0" stroke-width="0.3">80</text>
<text x="519.6" y="299.4" font-size="11.4" fill="#e020e0" stroke="#e020e0" stroke-width="0.3">60</text>
<text x="519.6" y="324.0" font-size="11.4" fill="#e020e0" stroke="#e020e0" stroke-width="0.3">40</text>
<text x="519.6" y="348.6" font-size="11.4" fill="#e020e0" stroke="#e020e0" stroke-width="0.3">20</text>
<text x="519.6" y="373.2" font-size="11.4" fill="#e020e0" stroke="#e020e0" stroke-width="0.3">0</text>
<text x="519" y="230.4" font-size="10" fill="#e020e0" stroke="#e020e0" stroke-width="0.3">x 10<tspan font-size="6.5" dy="-4.2">3</tspan></text>
<text transform="translate(553.8,305.6) rotate(-90)" font-size="11.75" fill="#e020e0" text-anchor="middle" stroke="#e020e0" stroke-width="0.3">PL Intensity (Counts/sec)</text>
<text x="375.8" y="383.5" font-size="12" fill="#111" text-anchor="middle" stroke="#111" stroke-width="0.3">-0.8</text>
<text x="406.7" y="383.5" font-size="12" fill="#111" text-anchor="middle" stroke="#111" stroke-width="0.3">-0.4</text>
<text x="439.0" y="383.5" font-size="12" fill="#111" text-anchor="middle" stroke="#111" stroke-width="0.3">0</text>
<text x="469.7" y="383.5" font-size="12" fill="#111" text-anchor="middle" stroke="#111" stroke-width="0.3">0.4</text>
<text x="500.4" y="383.5" font-size="12" fill="#111" text-anchor="middle" stroke="#111" stroke-width="0.3">0.8</text>
<text x="441.8" y="399.1" font-size="11.7" fill="#111" text-anchor="middle" stroke="#111" stroke-width="0.3">Electric field (V/nm)</text>
<text x="384.8" y="367.1" font-size="9" fill="#111" stroke="#111" stroke-width="0.12">photon switch <tspan fill="#e0141e" stroke="#e0141e" stroke-width="0.12">on</tspan></text>
<text x="466.9" y="367.1" font-size="9" fill="#e0141e" stroke="#e0141e" stroke-width="0.12">off</text>
</svg>
</body></html>
